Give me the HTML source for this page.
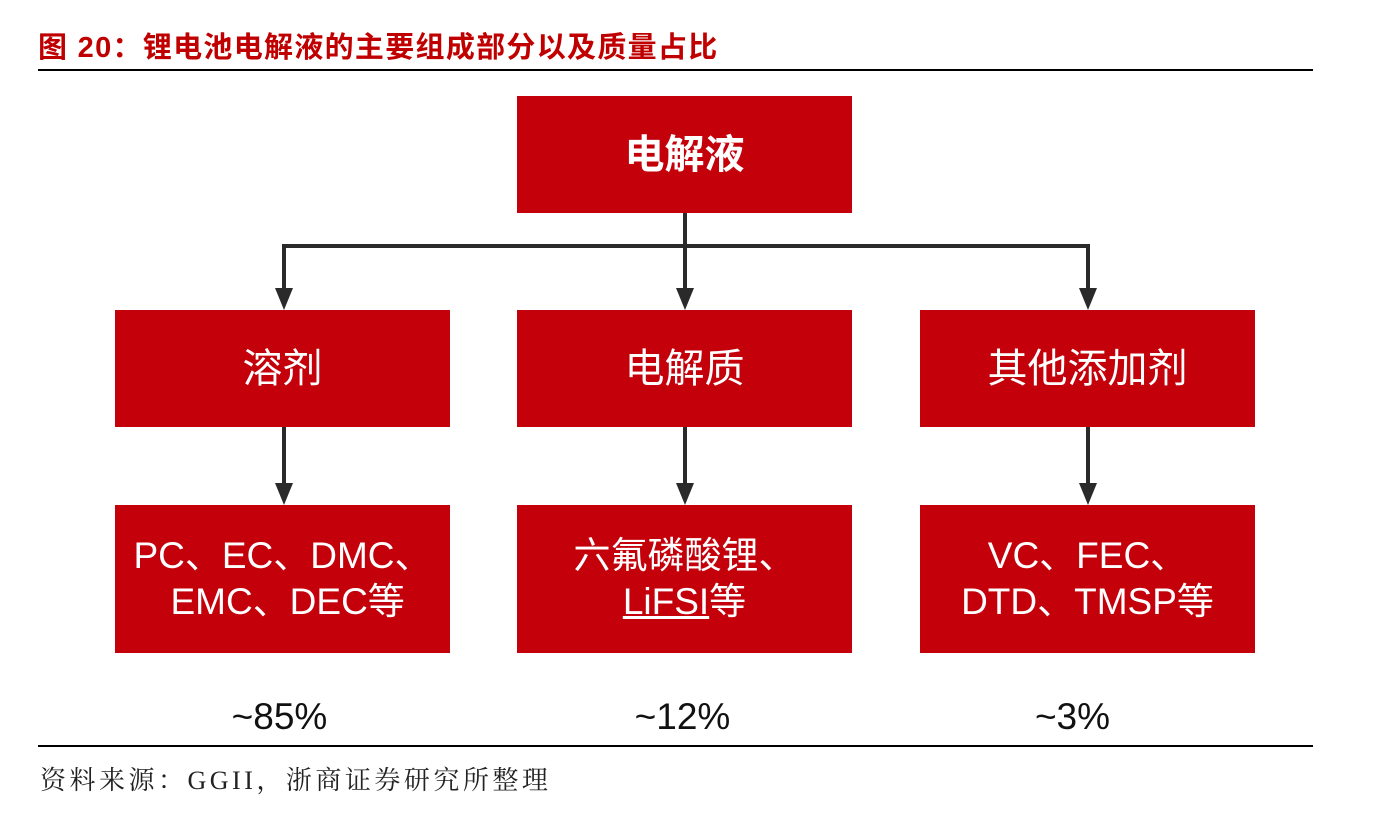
<!DOCTYPE html>
<html><head><meta charset="utf-8"><style>
body{margin:0;width:1380px;height:814px;background:#fff;position:relative;overflow:hidden;font-family:"Liberation Sans","Noto Sans CJK SC",sans-serif}
.abs{position:absolute}
.box{position:absolute;background:#c4000b;color:#fff;display:flex;align-items:center;justify-content:center;text-align:center;font-size:40px;line-height:46px}
.box.sm{font-size:37px}
.pct{position:absolute;width:335px;text-align:center;font-size:37px;color:#111;top:696px}
</style></head><body>
<div class="abs" style="left:38px;top:24px;font-size:29px;font-weight:bold;color:#c00000;letter-spacing:1.3px;white-space:nowrap">图 20：锂电池电解液的主要组成部分以及质量占比</div>
<div class="abs" style="left:38px;top:69px;width:1275px;height:2px;background:#000"></div>
<svg class="abs" style="left:0;top:0" width="1380" height="814">
<g stroke="#2a2a2a" stroke-width="4" fill="none">
<line x1="685" y1="213" x2="685" y2="292"/>
<line x1="282" y1="246" x2="1090" y2="246"/>
<line x1="284" y1="244" x2="284" y2="292"/>
<line x1="1088" y1="244" x2="1088" y2="292"/>
<line x1="284" y1="427" x2="284" y2="487"/>
<line x1="685" y1="427" x2="685" y2="487"/>
<line x1="1088" y1="427" x2="1088" y2="487"/>
</g>
<g fill="#2a2a2a">
<polygon points="275,288 293,288 284,310"/>
<polygon points="676,288 694,288 685,310"/>
<polygon points="1079,288 1097,288 1088,310"/>
<polygon points="275,483 293,483 284,505"/>
<polygon points="676,483 694,483 685,505"/>
<polygon points="1079,483 1097,483 1088,505"/>
</g>
</svg>
<div class="box" style="left:517px;top:96px;width:335px;height:117px;font-weight:bold">电解液</div>
<div class="box" style="left:115px;top:310px;width:335px;height:117px">溶剂</div>
<div class="box" style="left:517px;top:310px;width:335px;height:117px">电解质</div>
<div class="box" style="left:920px;top:310px;width:335px;height:117px">其他添加剂</div>
<div class="box sm" style="left:115px;top:505px;width:335px;height:148px"><div>PC、EC、DMC、<br>&nbsp;EMC、DEC等</div></div>
<div class="box sm" style="left:517px;top:505px;width:335px;height:148px"><div style="white-space:nowrap">六氟磷酸锂、<br><u>LiFSI</u>等</div></div>
<div class="box sm" style="left:920px;top:505px;width:335px;height:148px"><div>VC、FEC、<br>DTD、TMSP等</div></div>
<div class="pct" style="left:112px">~85%</div>
<div class="pct" style="left:515px">~12%</div>
<div class="pct" style="left:905px">~3%</div>
<div class="abs" style="left:38px;top:745px;width:1275px;height:2px;background:#000"></div>
<div class="abs" style="left:40px;top:760px;font-size:26px;letter-spacing:3.5px;color:#222;white-space:nowrap;font-family:'Liberation Serif','Noto Serif CJK SC',serif">资料来源：GGII，浙商证券研究所整理</div>
</body></html>
